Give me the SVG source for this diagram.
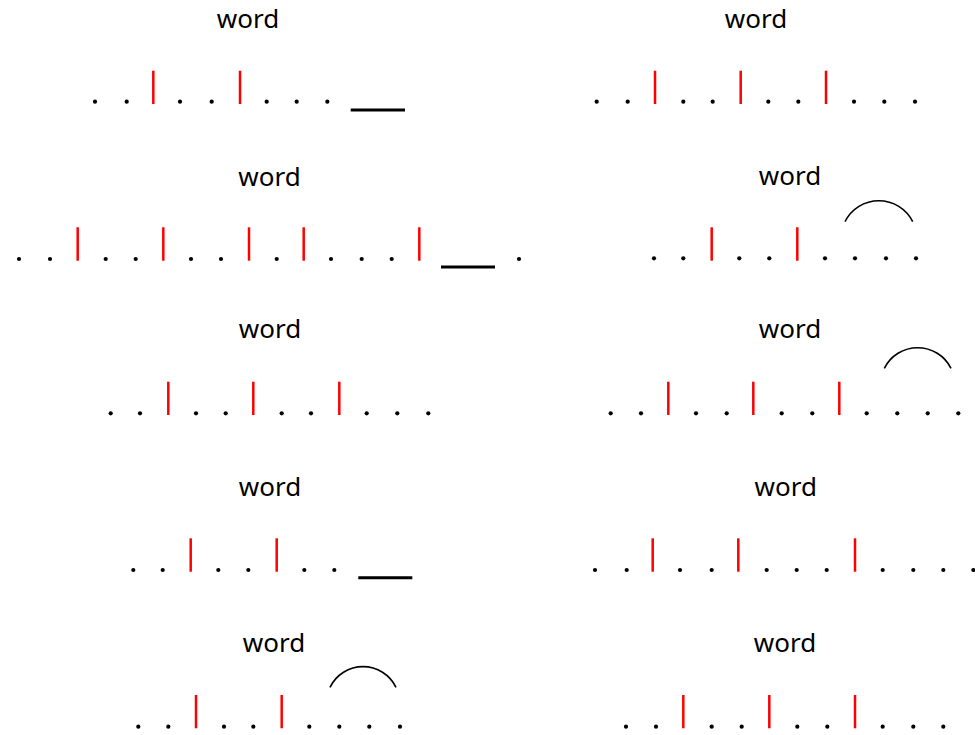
<svg xmlns="http://www.w3.org/2000/svg" xmlns:xlink="http://www.w3.org/1999/xlink" width="975" height="735" viewBox="0 0 975 735">
<style>
.lbl{font-family:"Noto Sans","DejaVu Sans",sans-serif;font-size:26px;fill:#000;text-anchor:middle}
.bar{stroke:#ff0000;stroke-width:2.5}
.ul{stroke:#000;stroke-width:3}
.arc{fill:none;stroke:#000;stroke-width:1.6}
</style>
<defs><circle id="d" r="2.1" fill="#000"/></defs>
<rect width="975" height="735" fill="#fff"/>
<g id="p1">
<text class="lbl" x="248" y="28">word</text>
<g transform="translate(0,101.7)"><use href="#d" x="95"/><use href="#d" x="126.7"/><use href="#d" x="180"/><use href="#d" x="211.7"/><use href="#d" x="266.7"/><use href="#d" x="296.7"/><use href="#d" x="327.3"/></g>
<line class="bar" x1="153.3" y1="70.7" x2="153.3" y2="104"/><line class="bar" x1="240" y1="70.7" x2="240" y2="104"/>
<line class="ul" x1="350.7" y1="110" x2="405" y2="110"/>
</g>
<g id="p2">
<text class="lbl" x="756" y="28">word</text>
<g transform="translate(0,101.7)"><use href="#d" x="596.7"/><use href="#d" x="627.7"/><use href="#d" x="683.3"/><use href="#d" x="712.7"/><use href="#d" x="768.3"/><use href="#d" x="798.3"/><use href="#d" x="854"/><use href="#d" x="884.3"/><use href="#d" x="915"/></g>
<line class="bar" x1="655" y1="70.7" x2="655" y2="104"/><line class="bar" x1="740.7" y1="70.7" x2="740.7" y2="104"/><line class="bar" x1="826" y1="70.7" x2="826" y2="104"/>
</g>
<g id="p3">
<text class="lbl" x="269.5" y="185.5">word</text>
<g transform="translate(0,259)"><use href="#d" x="19"/><use href="#d" x="50"/><use href="#d" x="105.7"/><use href="#d" x="135.7"/><use href="#d" x="191"/><use href="#d" x="221"/><use href="#d" x="276.7"/><use href="#d" x="331"/><use href="#d" x="361.7"/><use href="#d" x="391.7"/><use href="#d" x="519"/></g>
<line class="bar" x1="77.7" y1="227.3" x2="77.7" y2="260.7"/><line class="bar" x1="163.3" y1="227.3" x2="163.3" y2="260.7"/><line class="bar" x1="249" y1="227.3" x2="249" y2="260.7"/><line class="bar" x1="303.7" y1="227.3" x2="303.7" y2="260.7"/><line class="bar" x1="419.3" y1="227.3" x2="419.3" y2="260.7"/>
<line class="ul" x1="441" y1="267" x2="495" y2="267"/>
</g>
<g id="p4">
<text class="lbl" x="790" y="185">word</text>
<g transform="translate(0,258.3)"><use href="#d" x="654"/><use href="#d" x="683.3"/><use href="#d" x="739.3"/><use href="#d" x="769.3"/><use href="#d" x="825"/><use href="#d" x="855"/><use href="#d" x="886"/><use href="#d" x="916"/></g>
<line class="bar" x1="711.7" y1="227.3" x2="711.7" y2="260.7"/><line class="bar" x1="797.3" y1="227.3" x2="797.3" y2="260.7"/>
<path class="arc" d="M845,221.7 A37.8,37.8 0 0 1 912.7,221.7"/>
</g>
<g id="p5">
<text class="lbl" x="270" y="338.3">word</text>
<g transform="translate(0,413.3)"><use href="#d" x="110.7"/><use href="#d" x="140"/><use href="#d" x="196"/><use href="#d" x="225.7"/><use href="#d" x="281.7"/><use href="#d" x="311"/><use href="#d" x="366.7"/><use href="#d" x="397.3"/><use href="#d" x="428.3"/></g>
<line class="bar" x1="168.3" y1="381.7" x2="168.3" y2="415"/><line class="bar" x1="253.3" y1="381.7" x2="253.3" y2="415"/><line class="bar" x1="339.3" y1="381.7" x2="339.3" y2="415"/>
</g>
<g id="p6">
<text class="lbl" x="790" y="338.3">word</text>
<g transform="translate(0,413.3)"><use href="#d" x="610.7"/><use href="#d" x="641"/><use href="#d" x="696"/><use href="#d" x="726.7"/><use href="#d" x="781.7"/><use href="#d" x="812.3"/><use href="#d" x="866.7"/><use href="#d" x="897.3"/><use href="#d" x="927.7"/><use href="#d" x="958.3"/></g>
<line class="bar" x1="668.3" y1="381.7" x2="668.3" y2="415"/><line class="bar" x1="753.3" y1="381.7" x2="753.3" y2="415"/><line class="bar" x1="839.3" y1="381.7" x2="839.3" y2="415"/>
<path class="arc" d="M884.3,368.3 A37.3,37.3 0 0 1 951,368.3"/>
</g>
<g id="p7">
<text class="lbl" x="270" y="496">word</text>
<g transform="translate(0,570)"><use href="#d" x="133.3"/><use href="#d" x="162.7"/><use href="#d" x="218.3"/><use href="#d" x="248.3"/><use href="#d" x="304.3"/><use href="#d" x="334.3"/></g>
<line class="bar" x1="190.7" y1="538.3" x2="190.7" y2="571.7"/><line class="bar" x1="276.7" y1="538.3" x2="276.7" y2="571.7"/>
<line class="ul" x1="358.3" y1="577.7" x2="412.3" y2="577.7"/>
</g>
<g id="p8">
<text class="lbl" x="785.7" y="496">word</text>
<g transform="translate(0,570)"><use href="#d" x="595"/><use href="#d" x="626.7"/><use href="#d" x="680"/><use href="#d" x="711.7"/><use href="#d" x="766.7"/><use href="#d" x="796.7"/><use href="#d" x="826.7"/><use href="#d" x="882.7"/><use href="#d" x="913.3"/><use href="#d" x="943.3"/><use href="#d" x="973.3"/></g>
<line class="bar" x1="652.7" y1="538.3" x2="652.7" y2="571.7"/><line class="bar" x1="738.3" y1="538.3" x2="738.3" y2="571.7"/><line class="bar" x1="855" y1="538.3" x2="855" y2="571.7"/>
</g>
<g id="p9">
<text class="lbl" x="274" y="651.7">word</text>
<g transform="translate(0,726.7)"><use href="#d" x="138.3"/><use href="#d" x="168.3"/><use href="#d" x="224"/><use href="#d" x="253.3"/><use href="#d" x="309.3"/><use href="#d" x="339.3"/><use href="#d" x="369.3"/><use href="#d" x="400"/></g>
<line class="bar" x1="196" y1="695" x2="196" y2="728.3"/><line class="bar" x1="281.7" y1="695" x2="281.7" y2="728.3"/>
<path class="arc" d="M330,687.3 A36.7,36.7 0 0 1 396,687.3"/>
</g>
<g id="p10">
<text class="lbl" x="785" y="651.7">word</text>
<g transform="translate(0,726.7)"><use href="#d" x="626"/><use href="#d" x="656"/><use href="#d" x="711.7"/><use href="#d" x="741.7"/><use href="#d" x="797.3"/><use href="#d" x="827.3"/><use href="#d" x="882.7"/><use href="#d" x="913.3"/><use href="#d" x="943.3"/></g>
<line class="bar" x1="683.3" y1="695" x2="683.3" y2="728.3"/><line class="bar" x1="769.3" y1="695" x2="769.3" y2="728.3"/><line class="bar" x1="855" y1="695" x2="855" y2="728.3"/>
</g>
<g id="connectors"></g>
</svg>
